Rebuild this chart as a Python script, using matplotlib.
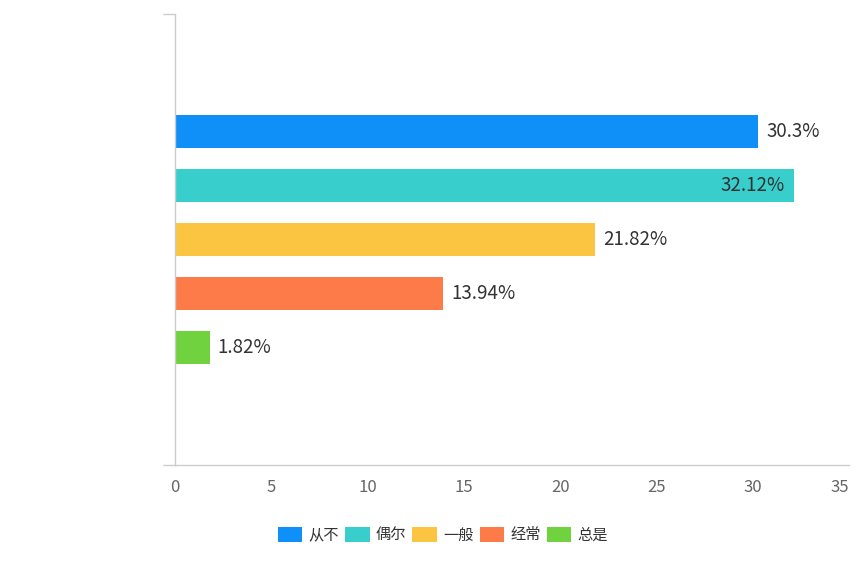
import matplotlib
matplotlib.use("Agg")
import matplotlib.pyplot as plt
from matplotlib.patches import Patch

plt.rcParams['font.family'] = ['Noto Sans CJK SC', 'DejaVu Sans']

categories = ["从不", "偶尔", "一般", "经常", "总是"]
values = [30.3, 32.12, 21.82, 13.94, 1.82]
labels = ["30.3%", "32.12%", "21.82%", "13.94%", "1.82%"]
colors = ["#0f8ff8", "#38cecb", "#fbc542", "#fc7b48", "#70d23e"]
xticks = [0, 5, 10, 15, 20, 25, 30, 35]

fig = plt.figure(figsize=(8.65, 5.77), dpi=100)
ax = fig.add_axes([0.2023, 0.1941, 0.7792, 0.7816])

pos = list(range(len(categories)))
for p, v, c, lab in zip(pos, values, colors, labels):
    ax.barh(p, v, height=0.61, color=c, label=lab)
    # the longest bar gets its label inside, like the original
    if v == max(values):
        ax.text(v - 0.45, p, lab, ha="right", va="center", fontsize=13.5, color="#333333")
    else:
        ax.text(v + 0.4, p, lab, ha="left", va="center", fontsize=13.5, color="#333333")

half = 451 / 54 / 2
ax.set_ylim(2 + half, 2 - half)
ax.set_xlim(0, 35)
ax.set_xticks(xticks)
ax.set_xticklabels([str(t) for t in xticks], fontsize=12, color="#666666")
ax.get_xticklabels()[-1].set_horizontalalignment("right")
ax.set_yticks([2 - half, 2 + half])
ax.set_yticklabels([])
ax.tick_params(axis="x", length=0, pad=10)
ax.tick_params(axis="y", length=9, color="#cccccc", width=1)

for s in ["top", "right"]:
    ax.spines[s].set_visible(False)
for s in ["left", "bottom"]:
    ax.spines[s].set_color("#cccccc")
    ax.spines[s].set_linewidth(1)

handles = [Patch(facecolor=c, edgecolor="none") for c in colors]
fig.legend(handles, categories, loc="center", bbox_to_anchor=(0.512, 0.073),
           ncol=5, frameon=False, fontsize=11, handlelength=1.6, handleheight=1.1,
           handletextpad=0.4, columnspacing=0.4, labelcolor="#333333")

fig.savefig("out.png", dpi=100)
